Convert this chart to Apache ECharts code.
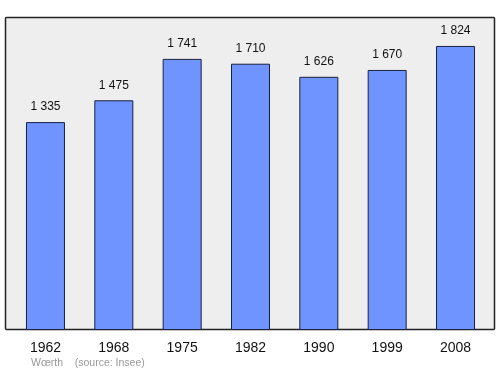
<!DOCTYPE html>
<html><head><meta charset="utf-8">
<script src="https://cdn.jsdelivr.net/npm/echarts@6/dist/echarts.min.js"></script>
<style>html,body{margin:0;padding:0;background:#fff}#c{width:500px;height:374px}</style>
</head><body><div id="c"></div>
<script>
const years = ['1962','1968','1975','1982','1990','1999','2008'];
const population = [1335,1475,1741,1710,1626,1670,1824];
const labels = ['1 335','1 475','1 741','1 710','1 626','1 670','1 824'];

const chart = echarts.init(document.getElementById('c'), null, {renderer:'canvas'});
chart.setOption({
  animation:false,
  backgroundColor:'#fff',
  graphic:[
    {type:'rect', z:-10, shape:{x:5.5,y:17.5,width:489,height:312,r:1}, style:{fill:'#eeeeee',stroke:'#222',lineWidth:1.5}},
    {type:'text', left:31, top:358, style:{text:'Wœrth    (source: Insee)', fill:'#999', font:'10.5px "Liberation Sans", Arial, sans-serif'}}
  ],
  grid:{left:11.3, top:17, width:478.4, height:313},
  xAxis:{type:'category', data:years, axisLine:{show:false}, axisTick:{show:false},
    axisLabel:{color:'#111', fontSize:14, fontFamily:'"Liberation Sans", Arial, sans-serif', margin:11}},
  yAxis:{type:'value', min:0, max:2010, show:false, splitLine:{show:false}},
  series:[{type:'bar', data:population, barWidth:39,
    itemStyle:{color:'#6f94ff', borderColor:'#1a2040', borderWidth:1},
    label:{show:true, position:'top', distance:9, color:'#111', fontSize:12, fontFamily:'"Liberation Sans", Arial, sans-serif',
      formatter:p=>labels[p.dataIndex]}}]
});
</script></body></html>
